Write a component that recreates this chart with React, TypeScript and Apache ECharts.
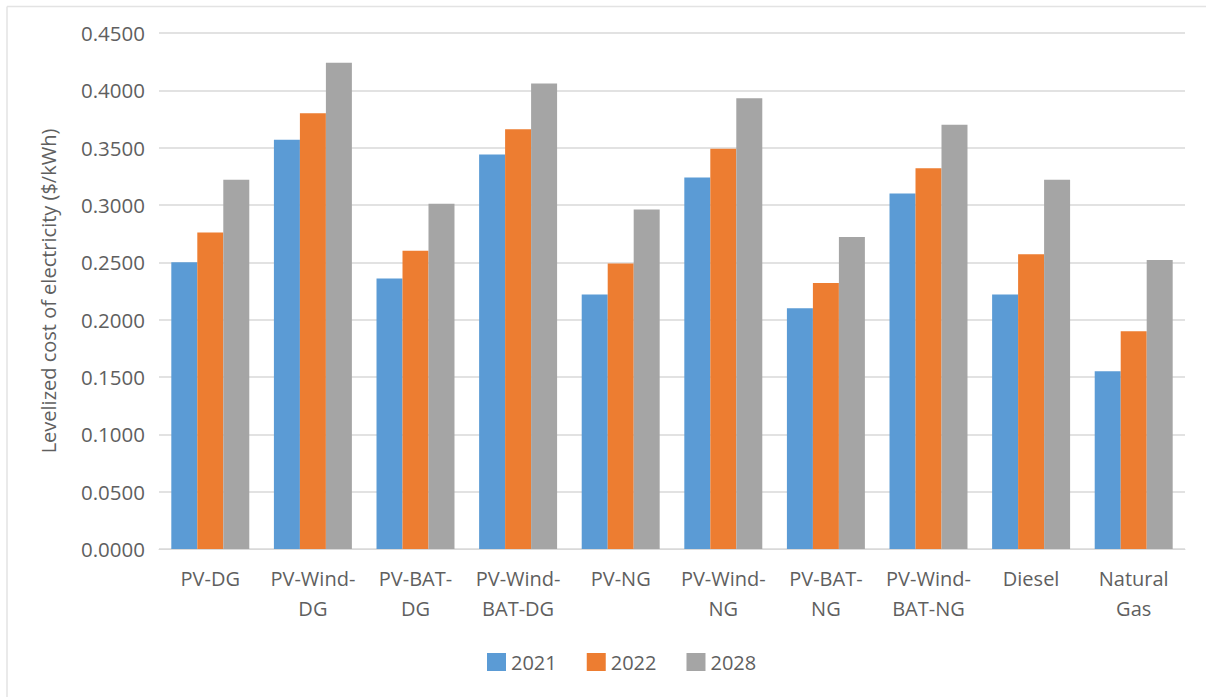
import React, { useEffect, useRef } from "react";
import * as echarts from "echarts";

const categories = [
  "PV-DG",
  "PV-Wind-DG",
  "PV-BAT-DG",
  "PV-Wind-BAT-DG",
  "PV-NG",
  "PV-Wind-NG",
  "PV-BAT-NG",
  "PV-Wind-BAT-NG",
  "Diesel",
  "Natural Gas",
];

const categoryLabels = [
  "PV-DG",
  "PV-Wind-\nDG",
  "PV-BAT-\nDG",
  "PV-Wind-\nBAT-DG",
  "PV-NG",
  "PV-Wind-\nNG",
  "PV-BAT-\nNG",
  "PV-Wind-\nBAT-NG",
  "Diesel",
  "Natural\nGas",
];

const seriesNames = ["2021", "2022", "2028"];
const values2021 = [0.250, 0.357, 0.236, 0.344, 0.222, 0.324, 0.210, 0.310, 0.222, 0.155];
const values2022 = [0.276, 0.380, 0.260, 0.366, 0.249, 0.349, 0.232, 0.332, 0.257, 0.190];
const values2028 = [0.322, 0.424, 0.301, 0.406, 0.296, 0.393, 0.272, 0.370, 0.322, 0.252];
const colors = ["#5b9bd5", "#ed7d31", "#a5a5a5"];

const yTitle = "Levelized cost of electricity ($/kWh)";

export default function App() {
  const ref = useRef<HTMLDivElement>(null);

  useEffect(() => {
    if (!ref.current) return;
    const chart = echarts.init(ref.current, null, { renderer: "svg" });
    const font = "'Open Sans', 'Noto Sans', sans-serif";
    const textColor = "#5f5f5f";
    const allValues = [values2021, values2022, values2028];
    chart.setOption({
      animation: false,
      backgroundColor: "#ffffff",
      textStyle: { fontFamily: font },
      grid: { left: 159, right: 21, top: 33, bottom: 148, containLabel: false },
      legend: {
        data: seriesNames,
        left: 487,
        top: 652,
        itemWidth: 19,
        itemHeight: 18,
        itemGap: 30,
        padding: 0,
        icon: "rect",
        textStyle: { fontFamily: font, fontSize: 20, color: textColor, padding: [0, 0, 0, 0] },
      },
      xAxis: {
        type: "category",
        data: categories,
        axisLine: { show: true, lineStyle: { color: "#d9d9d9", width: 1 } },
        axisTick: { show: false },
        axisLabel: {
          interval: 0,
          margin: 14,
          fontFamily: font,
          fontSize: 20,
          color: textColor,
          lineHeight: 30,
          formatter: (_v: string, i: number) => categoryLabels[i],
        },
      },
      yAxis: {
        type: "value",
        min: 0,
        max: 0.45,
        interval: 0.05,
        name: yTitle,
        nameLocation: "middle",
        nameGap: 101,
        nameTextStyle: { fontFamily: font, fontSize: 20, color: textColor },
        axisLine: { show: false },
        axisTick: { show: false },
        splitLine: { lineStyle: { color: "#d9d9d9", width: 1.5 } },
        axisLabel: {
          margin: 14,
          fontFamily: font,
          fontSize: 20.5,
          color: textColor,
          formatter: (v: number) => v.toFixed(4),
        },
      },
      series: seriesNames.map((name, i) => ({
        name,
        type: "bar",
        data: allValues[i],
        barGap: "0%",
        barCategoryGap: "24%",
        itemStyle: { color: colors[i] },
      })),
      graphic: [
        {
          type: "line",
          shape: { x1: 7, y1: 6.5, x2: 1206, y2: 6.5 },
          style: { stroke: "#e3e3e3", lineWidth: 1.5 },
          silent: true,
        },
        {
          type: "line",
          shape: { x1: 7, y1: 6.5, x2: 7, y2: 697 },
          style: { stroke: "#e3e3e3", lineWidth: 1.5 },
          silent: true,
        },
      ],
    });
    return () => chart.dispose();
  }, []);

  return (
    <div
      ref={ref}
      style={{ position: "fixed", left: 0, top: 0, width: 1206, height: 697, background: "#fff" }}
    />
  );
}
